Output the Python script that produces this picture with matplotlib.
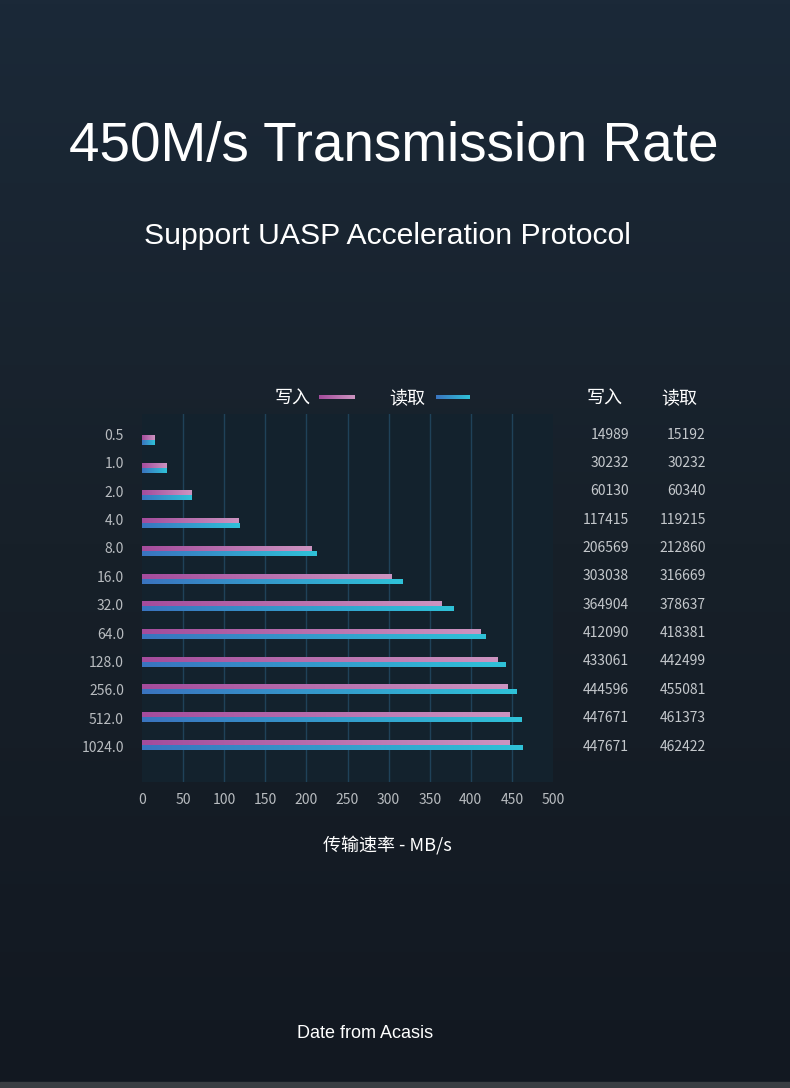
import numpy as np
import matplotlib
matplotlib.use('Agg')
import matplotlib.pyplot as plt
from matplotlib.colors import LinearSegmentedColormap
import matplotlib.transforms as mtransforms

# ---- data ----
block_sizes = ['0.5', '1.0', '2.0', '4.0', '8.0', '16.0', '32.0', '64.0',
               '128.0', '256.0', '512.0', '1024.0']
write_kb = [14989, 30232, 60130, 117415, 206569, 303038, 364904, 412090,
            433061, 444596, 447671, 447671]
read_kb = [15192, 30232, 60340, 119215, 212860, 316669, 378637, 418381,
           442499, 455081, 461373, 462422]
write_mb = [v / 1000 for v in write_kb]
read_mb = [v / 1000 for v in read_kb]
x_ticks = [0, 50, 100, 150, 200, 250, 300, 350, 400, 450, 500]
series_names = ['写入', '读取']

CJK = ['Noto Sans CJK SC', 'DejaVu Sans']
LAT = ['Liberation Sans', 'DejaVu Sans']

W, H = 790, 1088
fig = plt.figure(figsize=(W / 100, H / 100), dpi=100)

# background gradient
bg = fig.add_axes([0, 0, 1, 1])
bg_cmap = LinearSegmentedColormap.from_list('bg', ['#1b2938', '#172029', '#121821'])
bg.imshow(np.linspace(0, 1, 256).reshape(-1, 1), cmap=bg_cmap, aspect='auto',
          extent=[0, 1, 0, 1], origin='upper')
bg.add_patch(plt.Rectangle((0, 0), 1, 6 / H, color='#3a3e43', transform=bg.transAxes))
bg.set_xlim(0, 1); bg.set_ylim(0, 1)
bg.axis('off')

# titles
fig.text(0.4987, 1 - 147 / H, '450M/s Transmission Rate', color='white', family=LAT,
         fontsize=39.5, ha='center', va='center')
fig.text(0.4905, 1 - 236 / H, 'Support UASP Acceleration Protocol', color='white', family=LAT,
         fontsize=21.7, ha='center', va='center')
fig.text(0.462, 1 - 1033 / H, 'Date from Acasis', color='white', family=LAT,
         fontsize=13, ha='center', va='center')

write_cmap = LinearSegmentedColormap.from_list('w', ['#a44c9c', '#cc94c0'])
read_cmap = LinearSegmentedColormap.from_list('r', ['#3a74bf', '#2fc2d8'])

# main axes
ax = fig.add_axes([142 / W, 1 - 782 / H, (553 - 142) / W, (782 - 414) / H])
ax.set_facecolor('#13222d')
for s in ax.spines.values():
    s.set_visible(False)

y = np.arange(len(block_sizes))
bh = 0.18
wb = ax.barh(y - bh / 2, write_mb, height=bh, color='none', zorder=3)
rb = ax.barh(y + bh / 2, read_mb, height=bh, color='none', zorder=3)
grad = np.linspace(0, 1, 256).reshape(1, -1)
for bars, cmap in ((wb, write_cmap), (rb, read_cmap)):
    for r in bars:
        x0, y0, w, h = r.get_x(), r.get_y(), r.get_width(), r.get_height()
        im = ax.imshow(grad, cmap=cmap, aspect='auto', extent=[x0, x0 + w, y0 + h, y0],
                       zorder=3, interpolation='bilinear')
        im.set_clip_path(r)

ax.set_xlim(0, 500)
ax.set_ylim(12.34, -0.94)
ax.set_xticks(x_ticks)
label_pos = y * 1.0238 - 0.2
ax.set_yticks(label_pos)
ax.set_yticklabels(block_sizes)
for v in x_ticks[1:-1]:
    ax.axvline(v, color='#1f4259', lw=1, zorder=1)
ax.tick_params(axis='both', length=0, colors='#b8bcc0', labelsize=10)
ax.tick_params(axis='y', pad=13)
ax.tick_params(axis='x', pad=8)
for t in ax.get_xticklabels() + ax.get_yticklabels():
    t.set_family(CJK)
    t.set_color('#b8bcc0')
fig.text(387 / W, 1 - 846 / H, '传输速率 - MB/s', family=CJK, color='white', fontsize=13,
         ha='center', va='center')

# legend
fig.text(293 / W, 1 - 399 / H, series_names[0], family=CJK, color='white', fontsize=13,
         ha='center', va='center')
fig.text(407 / W, 1 - 399 / H, series_names[1], family=CJK, color='white', fontsize=13,
         ha='center', va='center')
for x0, x1, cmap in ((319, 355, write_cmap), (436, 470, read_cmap)):
    la = fig.add_axes([x0 / W, 1 - 399 / H, (x1 - x0) / W, 4 / H])
    la.imshow(grad, cmap=cmap, aspect='auto')
    la.axis('off')

# table
fig.text(605 / W, 1 - 399 / H, series_names[0], family=CJK, color='white', fontsize=13,
         ha='center', va='center')
fig.text(679 / W, 1 - 399 / H, series_names[1], family=CJK, color='white', fontsize=13,
         ha='center', va='center')
tr = mtransforms.blended_transform_factory(fig.transFigure, ax.transData)
for i in range(len(block_sizes)):
    fig.text(629 / W, label_pos[i], str(write_kb[i]), transform=tr, family=CJK,
             color='#c4c8cc', fontsize=10, ha='right', va='center')
    fig.text(706 / W, label_pos[i], str(read_kb[i]), transform=tr, family=CJK,
             color='#c4c8cc', fontsize=10, ha='right', va='center')

fig.savefig('out.png', dpi=100)
